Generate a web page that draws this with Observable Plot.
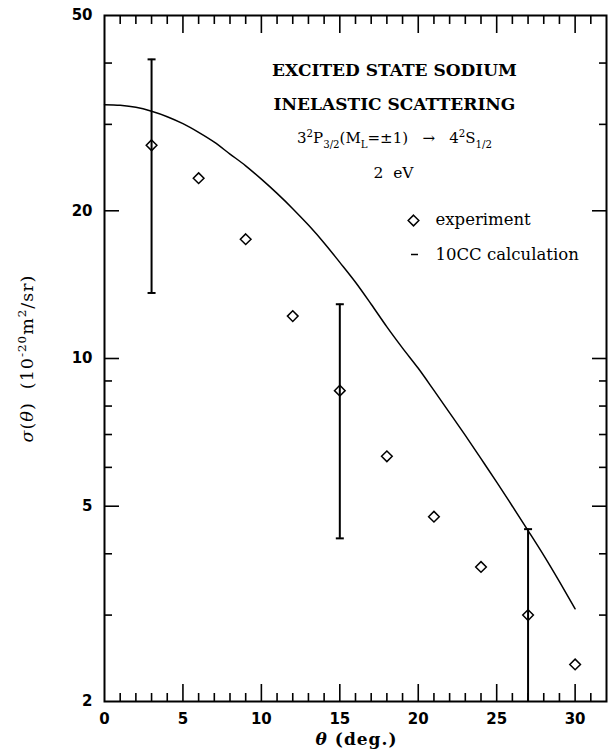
<!DOCTYPE html>
<html><head><meta charset="utf-8">
<script src="https://cdn.jsdelivr.net/npm/d3@7"></script>
<script src="https://cdn.jsdelivr.net/npm/@observablehq/plot@0.6"></script>
<style>body{margin:0;background:#fff}svg{display:block}</style>
</head><body><div id="chart"></div>
<script>
// ---- data ----
const angles = [3, 6, 9, 12, 15, 18, 21, 24, 27, 30];
const experiment = [27.2, 23.3, 17.5, 12.2, 8.6, 6.32, 4.76, 3.76, 3.00, 2.38];
const errAngles = [3, 15, 27];
const errLow = [13.6, 4.30, 1.5];
const errHigh = [40.7, 12.9, 4.49];
const calcAngles = [0,1,2,3,4,5,6,7,8,9,10,11,12,13,14,15,16,17,18,19,20,21,22,23,24,25,26,27,28,29,30];
const calcValues = [32.9,32.8,32.5,31.9,31.1,30.1,28.9,27.6,26.1,24.7,23.2,21.7,20.2,18.7,17.2,15.7,14.3,12.9,11.6,10.5,9.55,8.61,7.75,6.97,6.25,5.60,5.00,4.46,3.97,3.51,3.09];
const xLabelTicks = [0, 5, 10, 15, 20, 25, 30];
const xMajorTicks = [5, 10, 15, 20, 25, 30];
const xMinorTicks = [1,2,3,4,6,7,8,9,11,12,13,14,16,17,18,19,21,22,23,24,26,27,28,29,31];
const yLabelTicks = [2, 5, 10, 20, 50];
const yMajorTicks = [5, 10, 20];
const yMinorTicks = [3, 4, 6, 7, 8, 9, 30, 40];
const titleLines = ["EXCITED STATE SODIUM", "INELASTIC SCATTERING"];
const transitionText = "TRANSITION";
const energyText = "2  eV";
const legendLabels = ["experiment", "10CC calculation"];
const xTitle = "XTITLE";
const yTitle = "YTITLE";

const expData = angles.map((a, i) => ({angle: a, value: experiment[i]}));
const errData = errAngles.map((a, i) => ({angle: a, lo: errLow[i], hi: errHigh[i]}));
const capData = errData.flatMap(d => [{angle: d.angle, v: d.hi}, {angle: d.angle, v: d.lo}]).filter(d => d.v >= 2);
const calcData = calcAngles.map((a, i) => ({angle: a, value: calcValues[i]}));

const capSymbol = {draw(ctx, size) { const r = Math.sqrt(size / Math.PI); ctx.moveTo(-r, 0); ctx.lineTo(r, 0); }};
const dashSymbol = {draw(ctx, size) { const r = Math.sqrt(size / Math.PI); ctx.moveTo(-r, 0); ctx.lineTo(r, 0); }};

const serif = "DejaVu Serif";
const tickFont = "DejaVu Sans";
const tw = 1.6;

const chart = Plot.plot({
  width: 609, height: 749,
  marginLeft: 104, marginRight: 3, marginTop: 15, marginBottom: 48,
  style: {fontFamily: serif, background: "white", color: "black"},
  x: {domain: [0, 32]},
  y: {type: "log", domain: [2, 50]},
  marks: [
    // axes: labels
    Plot.axisX(xLabelTicks, {anchor: "bottom", tickSize: 0, tickPadding: 12, label: null, fontSize: 15, fontWeight: "bold", fontFamily: tickFont}),
    Plot.axisY(yLabelTicks, {anchor: "left", tickSize: 0, tickPadding: 12, label: null, fontSize: 15, fontWeight: "bold", fontFamily: tickFont, tickFormat: d => String(d)}),
    // inward ticks
    Plot.axisX(xMajorTicks, {anchor: "bottom", tickSize: -17, fill: "none", strokeWidth: tw, label: null}),
    Plot.axisX(xMinorTicks, {anchor: "bottom", tickSize: -8, fill: "none", strokeWidth: tw, label: null}),
    Plot.axisX(xMajorTicks, {anchor: "top", tickSize: -17, fill: "none", strokeWidth: tw, label: null}),
    Plot.axisX(xMinorTicks, {anchor: "top", tickSize: -8, fill: "none", strokeWidth: tw, label: null}),
    Plot.axisY(yMajorTicks, {anchor: "left", tickSize: -15, fill: "none", strokeWidth: tw, label: null}),
    Plot.axisY(yMinorTicks, {anchor: "left", tickSize: -8, fill: "none", strokeWidth: tw, label: null}),
    Plot.axisY(yMajorTicks, {anchor: "right", tickSize: -15, fill: "none", strokeWidth: tw, label: null}),
    Plot.axisY(yMinorTicks, {anchor: "right", tickSize: -8, fill: "none", strokeWidth: tw, label: null}),
    Plot.frame({stroke: "black", strokeWidth: 2}),
    // calculation curve
    Plot.line(calcData, {x: "angle", y: "value", stroke: "black", strokeWidth: 1.5, curve: "monotone-x"}),
    // error bars
    Plot.ruleX(errData, {x: "angle", y1: "lo", y2: "hi", stroke: "black", strokeWidth: 2, clip: true}),
    Plot.dot(capData, {x: "angle", y: "v", symbol: capSymbol, r: 4, stroke: "black", strokeWidth: 2}),
    // experiment
    Plot.dot(expData, {x: "angle", y: "value", symbol: "diamond2", r: 4.8, stroke: "black", strokeWidth: 1.5}),
    // title block
    Plot.text([titleLines[0]], {frameAnchor: "top-left", dx: 290, dy: 55, text: d => d, fontSize: 17, fontWeight: "bold", textAnchor: "middle", lineAnchor: "middle", fill: "black"}),
    Plot.text([titleLines[1]], {frameAnchor: "top-left", dx: 290, dy: 89, text: d => d, fontSize: 17, fontWeight: "bold", textAnchor: "middle", lineAnchor: "middle", fill: "black"}),
    Plot.text([transitionText], {frameAnchor: "top-left", dx: 290, dy: 123, text: d => d, fontSize: 15, textAnchor: "middle", lineAnchor: "middle", fill: "black"}),
    Plot.text([energyText], {frameAnchor: "top-left", dx: 289, dy: 158, text: d => d, fontSize: 15.5, textAnchor: "middle", lineAnchor: "middle", fill: "black"}),
    // legend
    Plot.dot([legendLabels[0]], {frameAnchor: "top-left", dx: 309, dy: 205, symbol: "diamond2", r: 4.8, stroke: "black", strokeWidth: 1.5}),
    Plot.text([legendLabels[0]], {frameAnchor: "top-left", dx: 331, dy: 204, text: d => d, fontSize: 16.5, textAnchor: "start", lineAnchor: "middle", fill: "black"}),
    Plot.dot([legendLabels[1]], {frameAnchor: "top-left", dx: 310, dy: 239, symbol: dashSymbol, r: 3.5, stroke: "black", strokeWidth: 1.5}),
    Plot.text([legendLabels[1]], {frameAnchor: "top-left", dx: 331, dy: 239, text: d => d, fontSize: 16.5, textAnchor: "start", lineAnchor: "middle", fill: "black"}),
    // axis titles
    Plot.text([xTitle], {frameAnchor: "bottom", dx: 1, dy: 38, text: d => d, fontSize: 17, fontWeight: "bold", textAnchor: "middle", lineAnchor: "middle", fill: "black", letterSpacing: 1}),
    Plot.text([yTitle], {frameAnchor: "left", dx: -77, rotate: -90, text: d => d, fontSize: 17.5, textAnchor: "middle", lineAnchor: "middle", fill: "black"})
  ]
});

function rich(el, parts, base, spacing) {
  const t = d3.select(el);
  t.text(null);
  if (spacing) t.attr("letter-spacing", spacing);
  let shift = 0;
  for (const p of parts) {
    const target = p.sup ? -0.42 : p.sub ? 0.28 : 0;
    const ts = t.append("tspan").text(p.t);
    ts.attr("font-size", (p.sup || p.sub) ? base * 0.68 : base);
    const dy = (target - shift) * base;
    if (dy) ts.attr("dy", dy);
    shift = target;
    if (p.it) ts.attr("font-style", "italic");
    if (p.bold) ts.attr("font-weight", "bold");
  }
}
d3.select(chart).selectAll("text").each(function() {
  const s = this.textContent;
  if (s === transitionText) {
    rich(this, [{t: "3"}, {t: "2", sup: 1}, {t: "P"}, {t: "3/2", sub: 1}, {t: "(M"}, {t: "L", sub: 1}, {t: "=±1)   →   4"}, {t: "2", sup: 1}, {t: "S"}, {t: "1/2", sub: 1}], 15);
  } else if (s === xTitle) {
    rich(this, [{t: "θ", it: 1}, {t: " (deg.)"}], 17, 1);
  } else if (s === yTitle) {
    rich(this, [{t: "σ", it: 1}, {t: "("}, {t: "θ", it: 1}, {t: ")  (10"}, {t: "-20", sup: 1}, {t: "m"}, {t: "2", sup: 1}, {t: "/sr)"}], 17.5, 1);
  }
});
document.getElementById("chart").append(chart);
</script>
</body></html>
